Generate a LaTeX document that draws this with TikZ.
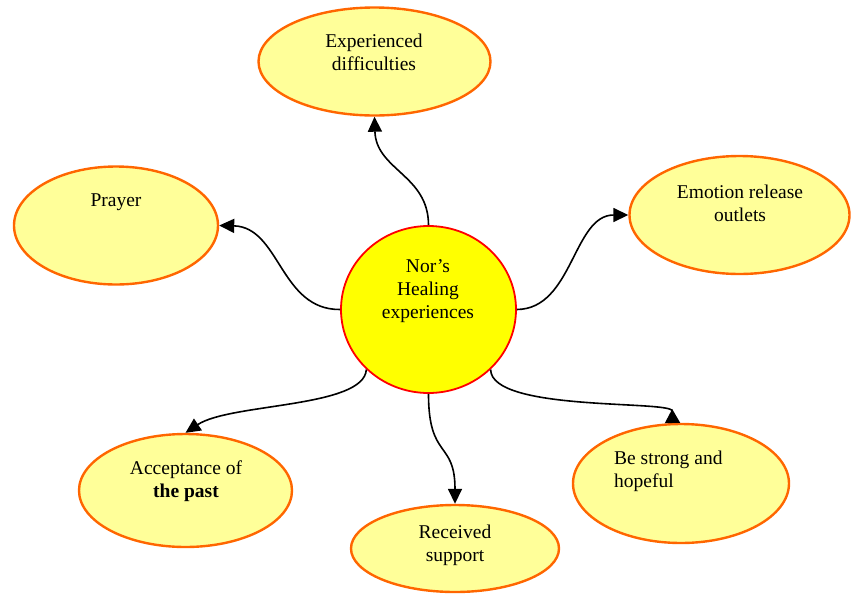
\documentclass[tikz,border=0pt]{standalone}
\usepackage{fontspec}
\setmainfont{Liberation Serif}
\usetikzlibrary{shapes.geometric,arrows.meta}
\definecolor{petal}{HTML}{FFFF99}
\definecolor{petalrim}{HTML}{FF6600}
\definecolor{hub}{HTML}{FFFF00}
\definecolor{hubrim}{HTML}{FF0000}
\tikzset{
  petalnode/.style={ellipse, draw=petalrim, fill=petal, line width=2.4pt, inner sep=0pt},
  hubnode/.style={ellipse, draw=hubrim, fill=hub, line width=1.8pt, inner sep=0pt,
    minimum width=175pt, minimum height=167pt},
  caption/.style={font=\fontsize{19.5}{23}\selectfont, align=center, inner sep=0pt},
  link/.style={line width=1.6pt, -{Triangle[length=15pt,width=14pt]}},
}
\begin{document}
\begin{tikzpicture}[x=1pt,y=-1pt]
\useasboundingbox (0,0) rectangle (852,595);

% hub and surrounding themes
\node[hubnode] (hub) at (428.5,309.5) {};
\node[petalnode, minimum width=232pt, minimum height=108pt] (diff) at (374.5,61.5) {};
\node[petalnode, minimum width=204pt, minimum height=118pt] (pray) at (116,225.5) {};
\node[petalnode, minimum width=220pt, minimum height=118pt] (emo) at (739.5,215) {};
\node[petalnode, minimum width=213pt, minimum height=113pt] (acc) at (185.5,490.5) {};
\node[petalnode, minimum width=208pt, minimum height=87pt] (supp) at (455,548.5) {};
\node[petalnode, minimum width=216pt, minimum height=119pt] (hope) at (681,483.5) {};

% captions
\node[caption] (hubT) at (428,291) {Nor’s\\Healing\\experiences};
\node[caption] (diffT) at (374,52) {Experienced\\difficulties};
\node[caption] (prayT) at (116,202) {Prayer};
\node[caption] (emoT) at (740,203) {Emotion release\\outlets};
\node[caption] (accT) at (186,481) {Acceptance of\\\textbf{the past}};
\node[caption] (suppT) at (455,545) {Received\\support};
\node[caption, align=left, anchor=west] (hopeT) at (614,471) {Be strong and\\hopeful};

% connectors
\draw[link] (hub.north) .. controls (428.5,175) and (376,170) .. (diff.south);
\draw[link] (hub.west) .. controls (280,310) and (280,227) .. (pray.east);
\draw[link] (hub.east) .. controls (573,309) and (573,215) .. (emo.west);
\draw[link] (hub.224) .. controls (364,408) and (230,403) .. (acc.north);
\draw[link] (hub.south) .. controls (428.5,460) and (455,440) .. (supp.north);
\draw[line width=1.6pt, -{Triangle[length=14pt,width=15pt,reversed]}]
  (hub.316) .. controls (491,412) and (672,400) .. (hope.98);
\end{tikzpicture}
\end{document}
